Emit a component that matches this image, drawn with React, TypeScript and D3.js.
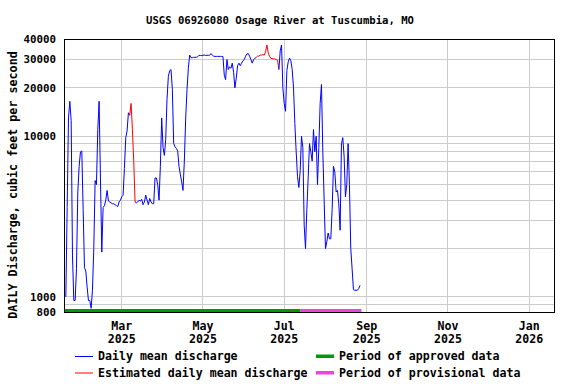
import React from "react";
import * as d3 from "d3";

// ---- data ----
const title = "USGS 06926080 Osage River at Tuscumbia, MO";
const yAxisTitle = "DAILY Discharge, cubic feet per second";
const firstDay = "2025-01-18";
// daily mean discharge (cfs), one value per day starting at firstDay
const discharge = [
  1000, 3600, 13000, 16500, 12500, 1800, 950, 950, 1500, 4500,
  6500, 8000, 8100, 3500, 1520, 1450, 1150, 950, 950, 850,
  1100, 2000, 5300, 5000, 11000, 16500, 5500, 1900, 3600, 3700,
  4000, 4600, 3950, 3900, 3850, 3800, 3800, 3750, 3700, 3650,
  3900, 4000, 4200, 4300, 6300, 9800, 10800, 14000, 13500, 16000,
  11000, 7000, 3900, 3850, 3900, 4000, 3950, 4050, 3750, 3900,
  4300, 4000, 3750, 4100, 3900, 3800, 3800, 5500, 5500, 5000,
  4000, 6500, 13000, 8500, 7600, 9500, 17000, 23600, 25600, 26000,
  19600, 9000, 8600, 8400, 8100, 6500, 5800, 5200, 4600, 7000,
  12800, 19500, 26500, 32000, 30800, 30800, 31000, 31000, 31000, 31200,
  31900, 31800, 31800, 31900, 32000, 31800, 31900, 31900, 31900, 32700,
  32000, 31500, 31400, 31400, 31400, 31400, 31400, 31400, 31300, 24000,
  22500, 30000, 26000, 27000, 26500, 28500, 25000, 20000, 23000, 27500,
  28500, 27500, 28500, 29500, 30000, 31500, 32500, 32700, 31500, 30000,
  28500, 30000, 30500, 31000, 31500, 31500, 32000, 32000, 32200, 32000,
  33500, 37000, 33000, 31500, 30500, 30500, 30300, 30300, 30000, 29800,
  26000, 34000, 37000, 20000, 16000, 14300, 25600, 29000, 30600, 29500,
  26000, 20000, 12000, 8000, 5600, 4800, 6100, 10000, 8500, 2800,
  2000, 3500, 5500, 9000, 8000, 7000, 11000, 8000, 10000, 5000,
  8500, 16000, 21000, 8000, 4000, 2000, 2200, 2500, 2300, 2300,
  3500, 6500, 6000, 4500, 4600, 3800, 2600, 9000, 9800, 7500,
  4200, 5000, 9000, 5000, 2000, 1500, 1110, 1100, 1100, 1100,
  1130, 1180,
];
const estimatedPeriods: [string, string][] = [
  ["2025-03-08", "2025-03-10"],
  ["2025-06-11", "2025-06-26"],
];
const approvalPeriods: { start: string; end: string; kind: string }[] = [
  { start: "2025-01-17", end: "2025-07-13", kind: "approved" },
  { start: "2025-07-13", end: "2025-08-28", kind: "provisional" },
];
const xDomain = ["2025-01-17", "2026-01-20"];
const xTicks = ["2025-03-01", "2025-05-01", "2025-07-01", "2025-09-01", "2025-11-01", "2026-01-01"];
const yTickLabels = [800, 1000, 10000, 20000, 30000, 40000];
const yGrid = [900, 1000, 2000, 3000, 4000, 5000, 6000, 7000, 8000, 9000, 10000, 20000, 30000];
const legendItems = [
  { label: "Daily mean discharge", kind: "line", color: "#0000ff" },
  { label: "Estimated daily mean discharge", kind: "line", color: "#ff0000" },
  { label: "Period of approved data", kind: "bar", color: "#009900" },
  { label: "Period of provisional data", kind: "bar", color: "#ee44dd" },
];

const parse = (s: string) => {
  const [y, m, d] = s.split("-").map(Number);
  return new Date(y, m - 1, d);
};

const W = 576;
const H = 384;
const L = 64.5, R = 554.5, T = 39.5, B = 312.5;
const FONT = "'DejaVu Sans Mono', 'Liberation Mono', monospace";

export default function App() {
  const x = d3.scaleTime().domain(xDomain.map(parse)).range([L, R]);
  const y = d3.scaleLog().domain([800, 40000]).range([B, T]);
  const start = parse(firstDay);
  const pts = discharge.map((v, i) => {
    const dt = new Date(start.getFullYear(), start.getMonth(), start.getDate() + i);
    const est = estimatedPeriods.some(([a, b]) => dt >= parse(a) && dt <= parse(b));
    return { dt, v, est };
  });

  // group segments by colour
  const runs: { color: string; pts: typeof pts }[] = [];
  for (let i = 0; i < pts.length - 1; i++) {
    const color = pts[i].est || pts[i + 1].est ? "#ff0000" : "#0000ff";
    const last = runs[runs.length - 1];
    if (last && last.color === color) last.pts.push(pts[i + 1]);
    else runs.push({ color, pts: [pts[i], pts[i + 1]] });
  }
  const line = d3
    .line<{ dt: Date; v: number }>()
    .x((d) => x(d.dt))
    .y((d) => y(d.v));

  const snap = (v: number) => Math.floor(v) + 0.5;
  const tickFmt = d3.timeFormat("%b");
  const yearFmt = d3.timeFormat("%Y");

  return (
    <svg width={W} height={H} style={{ position: "absolute", left: 0, top: 0, background: "#fff" }}>
      <rect x={0} y={0} width={W} height={H} fill="#fff" />
      <text x={280} y={24} textAnchor="middle" fontFamily={FONT} fontWeight="bold" fontSize={10.6} fill="#000">
        {title}
      </text>
      {/* grid */}
      {yGrid.map((g) => (
        <line key={"yg" + g} x1={L} x2={R} y1={snap(y(g))} y2={snap(y(g))} stroke="#cccccc" strokeWidth={1} />
      ))}
      {xTicks.map((t) => (
        <line key={"xg" + t} x1={snap(x(parse(t)))} x2={snap(x(parse(t)))} y1={T} y2={B} stroke="#cccccc" strokeWidth={1} />
      ))}
      {/* approval bars */}
      {approvalPeriods.map((p) => (
        <rect
          key={p.start}
          x={x(parse(p.start))}
          width={x(parse(p.end)) - x(parse(p.start))}
          y={B - 3.5}
          height={3}
          fill={p.kind === "approved" ? legendItems[2].color : legendItems[3].color}
        />
      ))}
      {/* data */}
      {runs.map((r, i) => (
        <path key={i} d={line(r.pts) || ""} fill="none" stroke={r.color} strokeWidth={1} />
      ))}
      {/* frame */}
      <rect x={L} y={T} width={R - L} height={B - T} fill="none" stroke="#000" strokeWidth={1} />
      {/* y tick labels */}
      {yTickLabels.map((t) => (
        <text key={"yl" + t} x={56} y={y(t)} dy="0.36em" textAnchor="end" fontFamily={FONT} fontWeight="bold" fontSize={10.8} fill="#000">
          {t}
        </text>
      ))}
      {/* x tick labels */}
      {xTicks.map((t) => (
        <g key={"xl" + t} fontFamily={FONT} fontWeight="bold" fontSize={11.6} fill="#000" textAnchor="middle">
          <text x={x(parse(t))} y={330}>{tickFmt(parse(t))}</text>
          <text x={x(parse(t))} y={343}>{yearFmt(parse(t))}</text>
        </g>
      ))}
      {/* y axis title */}
      <text
        transform={`translate(17,185) rotate(-90)`}
        textAnchor="middle"
        fontFamily={FONT}
        fontWeight="bold"
        fontSize={11.7}
        fill="#000"
      >
        {yAxisTitle}
      </text>
      {/* legend */}
      {legendItems.map((it, i) => {
        const col = i < 2 ? 0 : 1;
        const row = i % 2;
        const x0 = col === 0 ? 75 : 316;
        const yy = 356 + row * 16.5;
        return (
          <g key={it.label}>
            {it.kind === "line" ? (
              <line x1={x0} x2={x0 + 18} y1={yy + 0.5} y2={yy + 0.5} stroke={it.color} strokeWidth={1} />
            ) : (
              <rect x={x0} y={yy - 1.5} width={18} height={3.5} fill={it.color} />
            )}
            <text x={x0 + 23} y={yy + 4} fontFamily={FONT} fontWeight="bold" fontSize={11.6} fill="#000">
              {it.label}
            </text>
          </g>
        );
      })}
    </svg>
  );
}
